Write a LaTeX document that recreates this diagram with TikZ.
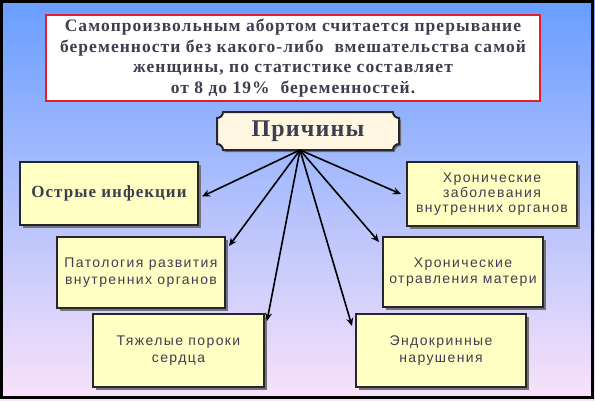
\documentclass[tikz,border=0pt]{standalone}
\usepackage{fontspec}
\setmainfont{Liberation Serif}
\setsansfont{Liberation Sans}
\usepackage{tikz}
\usetikzlibrary{arrows.meta,positioning,calc,shadows}
\definecolor{BgTop}{RGB}{104,158,255}
\definecolor{BgMid}{RGB}{165,198,248}
\definecolor{BgBot}{RGB}{250,226,250}
\definecolor{BoxFill}{RGB}{255,255,196}
\definecolor{PlaqueFill}{RGB}{255,246,226}
\definecolor{TxtC}{RGB}{62,62,80}
\definecolor{EdgeC}{RGB}{38,38,48}
\definecolor{TitleRed}{RGB}{232,28,40}
\tikzset{
  cause/.style={rectangle,draw=EdgeC,line width=2pt,fill=BoxFill,
                drop shadow={shadow xshift=3pt,shadow yshift=-3pt,fill=black!55,opacity=1},
                align=center,text=TxtC,inner sep=2pt,
                font=\sffamily\fontsize{14}{16.7}\selectfont\addfontfeature{LetterSpace=10}},
  plaque/.style={draw=EdgeC,line width=2pt,fill=PlaqueFill,
                 drop shadow={shadow xshift=2pt,shadow yshift=-2pt,fill=black!55,opacity=1}},
  link/.style={-{Stealth[length=8pt,width=7pt]},line width=1.6pt,black},
}
\begin{document}
\begin{tikzpicture}[x=1pt,y=1pt]
  \useasboundingbox (0,0) rectangle (595,400);
  % background with frame
  \shade[top color=BgTop,middle color=BgMid,bottom color=BgBot] (0,0) rectangle (595,400);
  \draw[line width=3pt,black] (1.5,2.5) rectangle (592.5,398.5);
  % definition
  \node[draw=TitleRed,line width=2pt,fill=white,minimum width=494,minimum height=84,
        align=center,text=TxtC,
        font=\bfseries\fontsize{17.5}{20.7}\selectfont\addfontfeature{LetterSpace=6}] (defn) at (293,342)
    {Самопроизвольным абортом считается прерывание\\
     беременности без какого-либо \ вмешательства самой\\
     женщины, по статистике составляет\\
     от 8 до 19\% \ беременностей.};
  % causes plaque
  \path[plaque] (223,288) -- (393,288) arc[start angle=180,end angle=270,radius=6]
    -- (399,256) arc[start angle=90,end angle=180,radius=6]
    -- (223,250) arc[start angle=0,end angle=90,radius=6]
    -- (217,282) arc[start angle=270,end angle=360,radius=6] -- cycle;
  \node[text=TxtC,font=\bfseries\fontsize{24}{27}\selectfont\addfontfeature{LetterSpace=5}] (reason) at (308,269) {Причины};
  \coordinate (hub) at (300,250);
  % boxes
  \node[cause,minimum width=178,minimum height=63,
        font=\rmfamily\bfseries\fontsize{17}{19}\selectfont\addfontfeature{LetterSpace=6}] (acute) at (109,206.5) {Острые инфекции};
  \node[cause,minimum width=170,minimum height=64,font=\sffamily\fontsize{14}{15.3}\selectfont\addfontfeature{LetterSpace=10}] (chronic) at (492,206) {Хронические\\заболевания\\внутренних органов};
  \node[cause,minimum width=168,minimum height=71] (patho) at (141,127.5) {Патология развития\\внутренних органов};
  \node[cause,minimum width=160,minimum height=70] (poison) at (463,128) {Хронические\\отравления матери};
  \node[cause,minimum width=171,minimum height=73] (heart) at (178.5,49.5) {Тяжелые пороки\\сердца};
  \node[cause,minimum width=170,minimum height=73] (endo) at (441,49.5) {Эндокринные\\нарушения};
  % arrow ends
  \coordinate (tacute) at ($(acute.east)+(3,-3)$);
  \coordinate (tchronic) at ($(chronic.west)+(-5,0)$);
  \coordinate (tpatho) at ($(patho.north east)+(3,-10)$);
  \coordinate (tpoison) at ($(poison.north west)+(-3,-6)$);
  \coordinate (theart) at ($(heart.north east)+(2,-8)$);
  \coordinate (tendo) at ($(endo.north west)+(-3,-13)$);
  \foreach \t in {tacute,tchronic,tpatho,tpoison,theart,tendo}
    \draw[link] (hub) -- (\t);
\end{tikzpicture}
\end{document}
